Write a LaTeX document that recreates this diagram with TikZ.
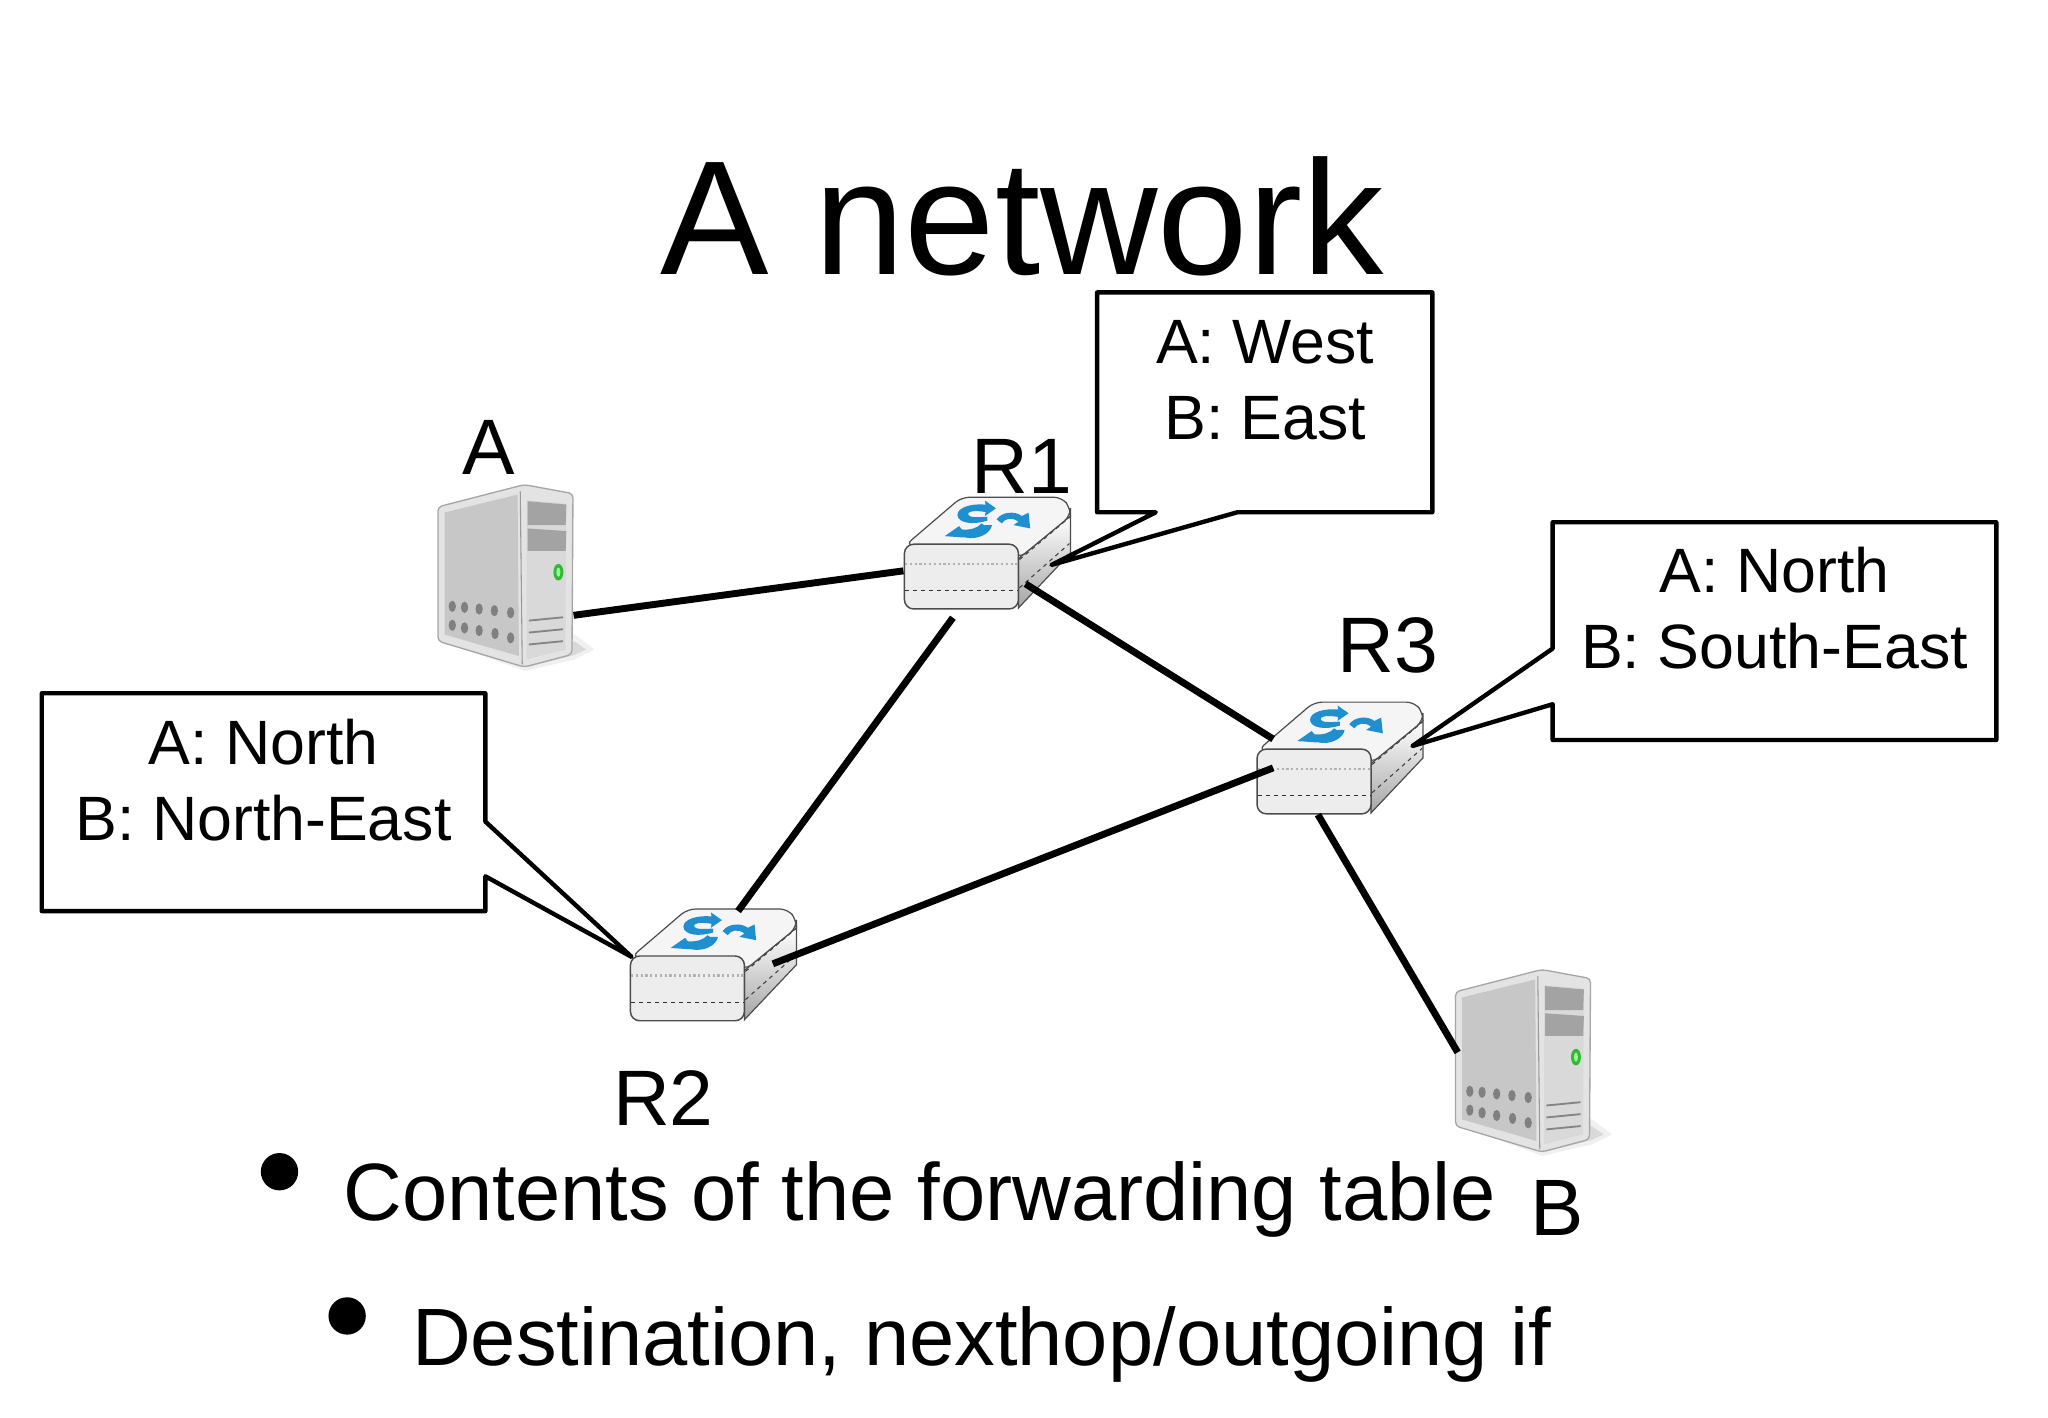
\documentclass[tikz,border=0pt]{standalone}
\usepackage{fontspec}
\setmainfont{Liberation Sans}
\definecolor{logoblue}{HTML}{1F8FD0}
\tikzset{
  link/.style={line width=5.2pt},
  tablebox/.style={draw,line width=3.3pt,fill=white,line join=round},
  tabletext/.style={font=\fontsize{47}{57}\selectfont,align=center,inner sep=0pt},
  hostlabel/.style={font=\fontsize{59}{59}\selectfont,anchor=base,inner sep=0pt},
  bullettext/.style={font=\fontsize{61}{61}\selectfont,anchor=base west,inner sep=0pt},
  bulletdot/.style={circle,fill=black,minimum size=28pt,inner sep=0pt},
  serverbox/.style={minimum width=102pt,minimum height=136.5pt,inner sep=0pt},
  routerbox/.style={minimum width=125.3pt,minimum height=84.3pt,inner sep=0pt},
  server/.pic={
    \begin{scope}[x=0.2487pt,y=-0.2487pt,shift={(-55,-48)}]
    %shadow
    \fill[black!6] (100,530) -- (320,610) -- (470,575) -- (530,545) -- (470,500) -- cycle;
    \fill[black!15] (320,600) -- (468,562) -- (505,545) -- (468,520) -- cycle;
    %body
    \fill[black!11,draw=black!35,line width=1pt,rounded corners=3pt] (58,115) -- (318,48) -- (465,75) -- (462,560) -- (318,598) -- (58,520) -- cycle;
    \fill[black!22] (78,132) -- (298,78) -- (302,565) -- (78,500) -- cycle;
    \fill[black!15] (325,95) -- (445,105) -- (442,545) -- (325,575) -- cycle;
    \draw[black!40,line width=0.8pt] (306,68) -- (312,590);
    %bays
    \fill[black!36] (328,98) -- (445,108) -- (443,170) -- (328,170) -- cycle;
    \fill[black!36] (328,180) -- (445,188) -- (443,248) -- (328,248) -- cycle;
    %led
    \fill[green!65!black!80] (421,312) ellipse (15 and 25);
    \fill[green!40!white] (421,312) ellipse (6 and 14);
    %holes
    \foreach \hx/\hy in {101/415,138/418,182/423,228/428,277/434,101/472,138/480,182/488,230/497,277/510}
      \fill[black!50] (\hx,\hy) ellipse (11 and 17);
    %vents
    \foreach \vy in {0,36,72}
      \draw[black!48,line width=1.4pt] (332,458+\vy) -- (435,448+\vy);
    \end{scope}
  },
  router/.pic={
    \begin{scope}[x=0.2516pt,y=-0.2516pt,shift={(-42,-50)}]
    \def\edgecol{black!70}
    %side
    \shadedraw[top color=white,bottom color=black!35,draw=\edgecol,line width=0.9pt] (385,235) -- (540,108) -- (540,218) -- (385,382) -- cycle;
    \draw[black!75,dashed,line width=0.8pt] (388,238) -- (537,112);
    \draw[black!75,dashed,line width=0.8pt] (388,322) -- (537,190);
    %top
    \fill[black!4,draw=\edgecol,line width=0.9pt,rounded corners=6pt] (48,195) -- (215,52) -- (515,52) -- (540,85) -- (540,108) -- (385,235) -- (350,195) -- cycle;
    %front
    \fill[black!7,draw=\edgecol,line width=1.1pt,rounded corners=7pt] (45,192) rectangle (385,385);
    \draw[black!30,dotted,line width=1.6pt] (47,250) -- (383,250);
    \draw[black!80,dashed,line width=0.9pt] (47,330) -- (383,330);
    %logo
    \fill[logoblue] (285,62) -- (318,85) -- (285,108) -- (287,96) .. controls (250,90) and (232,95) .. (235,104) .. controls (238,113) and (265,112) .. (292,110) -- (292,122) .. controls (250,135) and (205,130) .. (203,105) .. controls (203,82) and (245,70) .. (287,74) -- cycle;
    \fill[logoblue] (165,168) -- (208,138) -- (216,148) .. controls (240,150) and (262,145) .. (275,130) -- (287,138) .. controls (272,160) and (245,165) .. (222,172) -- cycle;
    \fill[logoblue] (240,152) .. controls (265,150) and (280,145) .. (285,135) -- (306,135) .. controls (302,160) and (265,180) .. (226,172) -- cycle;
    \fill[logoblue] (320,118) .. controls (335,95) and (375,92) .. (395,108) -- (415,98) -- (420,145) -- (370,135) -- (385,125) .. controls (365,110) and (345,115) .. (335,130) -- cycle;
    \end{scope}
  }
}
\begin{document}
\begin{tikzpicture}[x=0.746pt,y=-0.746pt]
\useasboundingbox (0,0) rectangle (2059,1425.6);
\fill[white] (0,0) rectangle (2059,1425.6);

% Title
\node (title) [font=\fontsize{122}{122}\selectfont,anchor=base,inner sep=0pt] at (1028,276) {A network};

% Hosts and routers
\node (srvA) [serverbox] at (508,579) {};
\node (srvB) [serverbox] at (1531,1066.5) {};
\node (r1) [routerbox] at (992.5,556) {};
\node (r2) [routerbox] at (717,970) {};
\node (r3) [routerbox] at (1347,762) {};
\pic at (srvA.north west) {server};
\pic at (srvB.north west) {server};
\pic at (r1.north west) {router};
\pic at (r2.north west) {router};
\pic at (r3.north west) {router};

% Links
\draw[link] (srvA.-30) -- (r1.192);
\draw[link] ([shift={(38.5,31)}]r1.center) -- ([shift={(-67,-19)}]r3.center);
\draw[link] ([shift={(-34.5,65)}]r1.center) -- ([shift={(25,-54)}]r2.center);
\draw[link] ([shift={(60,-1)}]r2.center) -- ([shift={(-67,10)}]r3.center);
\draw[link] ([shift={(-22,57)}]r3.center) -- ([shift={(-65.5,-8.5)}]srvB.center);

% Tables
\draw[tablebox] (1103,294) -- (1440,294) -- (1440,515) -- (1244,515) -- (1057,568) -- (1162,515) -- (1103,515) -- cycle;
\draw[tablebox] (1561,525) -- (2007,525) -- (2007,744) -- (1561,744) -- (1561,708) -- (1420,750) -- (1561,652) -- cycle;
\draw[tablebox] (42,697) -- (488,697) -- (488,826) -- (635,962) -- (488,881) -- (488,916) -- (42,916) -- cycle;
\node (tabR1) [tabletext] at (1272,382) {A: West\\B: East};
\node (tabR3) [tabletext] at (1784,611) {A: North\\B: South-East};
\node (tabR2) [tabletext] at (265,784) {A: North\\B: North-East};

% Host labels
\node (lblA) [hostlabel] at (491,477) {A};
\node (lblR1) [hostlabel] at (1027,496) {R1};
\node (lblR3) [hostlabel] at (1395,676) {R3};
\node (lblR2) [hostlabel] at (667,1132) {R2};
\node (lblB) [hostlabel,font=\fontsize{60}{60}\selectfont] at (1566,1242) {B};

% Bullets
\node (dot1) [bulletdot] at (281,1178) {};
\node (dot2) [bulletdot] at (349,1323) {};
\node (item1) [bullettext] at (345,1227) {Contents of the forwarding table};
\node (item2) [bullettext] at (414,1373) {Destination, nexthop/outgoing if};
\end{tikzpicture}
\end{document}
